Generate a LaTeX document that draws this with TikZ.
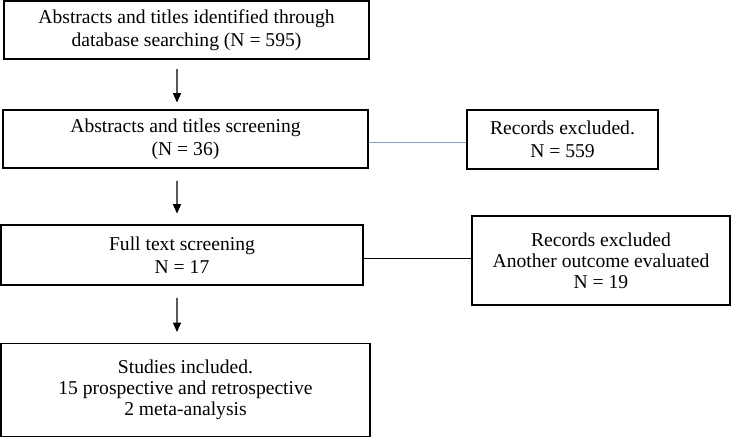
\documentclass[tikz,border=0pt]{standalone}
\usepackage{fontspec}
\setmainfont{Liberation Serif}
\usetikzlibrary{arrows.meta}
\begin{document}
\begin{tikzpicture}[x=0.75pt,y=-0.75pt,
  box/.style={draw=black,line width=1.2pt,rectangle,align=center,inner sep=0pt,
    font=\fontsize{14.7}{17.5}\selectfont},
  tight/.style={font=\fontsize{14.7}{15.8}\selectfont},
  arr/.style={line width=0.8pt,-{Triangle[length=7pt,width=6pt]}},
  link/.style={line width=0.7pt}]
\useasboundingbox (0,0) rectangle (731,437);
\node[box,minimum width=273.75pt,minimum height=43.5pt] (b1) at (186.5,30) {Abstracts and titles identified through\\database searching (N = 595)};
\node[box,minimum width=273.75pt,minimum height=43.5pt] (b2) at (185.5,139) {Abstracts and titles screening\\(N = 36)};
\node[box,minimum width=271.5pt,minimum height=45pt] (b3) at (182,255) {Full text screening\\N = 17};
\node[box,tight,minimum width=276.75pt,minimum height=69.75pt] (b4) at (185.5,390) {Studies included.\\15 prospective and retrospective\\2 meta-analysis};
\node[box,minimum width=143.25pt,minimum height=44.25pt] (r1) at (562.5,139.5) {Records excluded.\\N = 559};
\node[box,tight,minimum width=193.5pt,minimum height=66.75pt] (r2) at (601,260.5) {Records excluded\\Another outcome evaluated\\N = 19};
\draw[arr,shorten <=7pt,shorten >=5pt] ([xshift=-7.1pt]b1.south) -- ([xshift=-6.4pt]b2.north);
\draw[arr,shorten <=9pt,shorten >=8pt] ([xshift=-6.4pt]b2.south) -- ([xshift=-3.75pt]b3.north);
\draw[arr,shorten <=9pt,shorten >=8pt] ([xshift=-3.75pt]b3.south) -- ([xshift=-6.4pt]b4.north);
\draw[link,line width=0.9pt,draw={rgb,255:red,132;green,160;blue,200}] ([yshift=-2pt]b2.east |- r1.west) -- ([yshift=-2pt]r1.west);
\draw[link] ([yshift=-2.25pt]b3.east) -- ([yshift=-2.25pt]b3.east -| r2.west);
\end{tikzpicture}
\end{document}
